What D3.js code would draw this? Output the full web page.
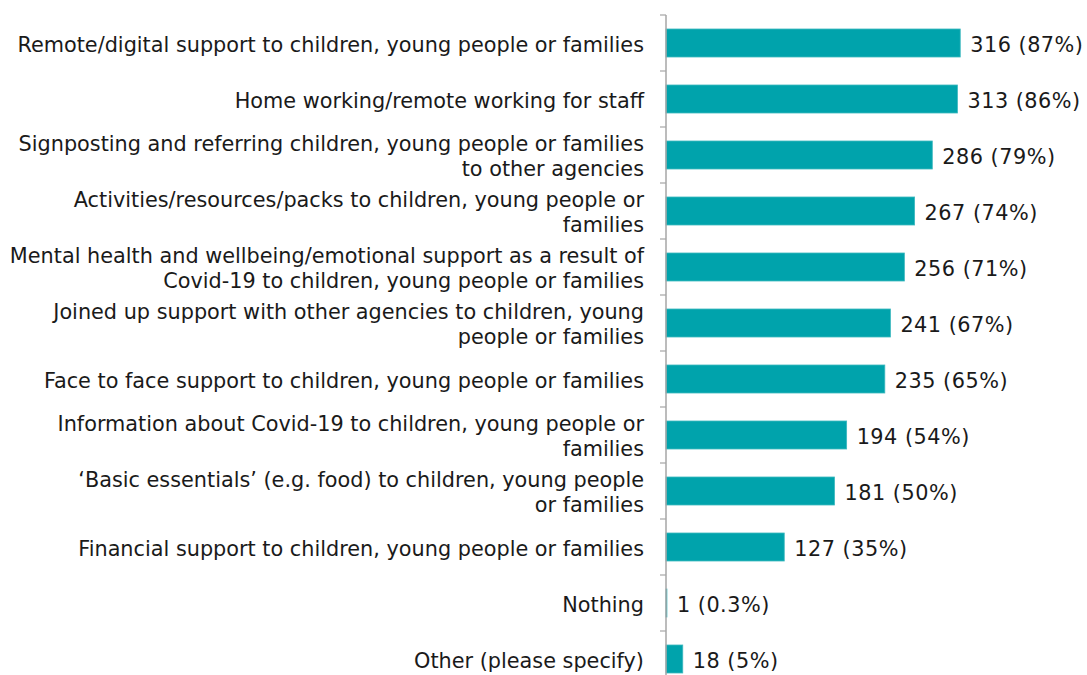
<!DOCTYPE html>
<html>
<head>
<meta charset="utf-8">
<script src="https://cdn.jsdelivr.net/npm/d3@7"></script>
<style>
  html, body { margin: 0; padding: 0; background: #ffffff; }
  svg { display: block; }
  text { font-family: Verdana, "DejaVu Sans", sans-serif; fill: #1a1a1a; }
</style>
</head>
<body>
<svg id="chart" width="1087" height="675"></svg>
<script>
// Category labels, one entry per line of the wrapped label
const categories = [
  ["Remote/digital support to children, young people or families"],
  ["Home working/remote working for staff"],
  ["Signposting and referring children, young people or families", "to other agencies"],
  ["Activities/resources/packs to children, young people or", "families"],
  ["Mental health and wellbeing/emotional support as a result of", "Covid-19 to children, young people or families"],
  ["Joined up support with other agencies to children, young", "people or families"],
  ["Face to face support to children, young people or families"],
  ["Information about Covid-19 to children, young people or", "families"],
  ["\u2018Basic essentials\u2019 (e.g. food) to children, young people", "or families"],
  ["Financial support to children, young people or families"],
  ["Nothing"],
  ["Other (please specify)"]
];
const counts = [316, 313, 286, 267, 256, 241, 235, 194, 181, 127, 1, 18];
const percents = ["87%", "86%", "79%", "74%", "71%", "67%", "65%", "54%", "50%", "35%", "0.3%", "5%"];

const svg = d3.select("#chart");
const fontSize = 20.8;
const lineHeight = 25;
const textShift = 1.5;

const x = d3.scaleLinear().domain([0, 450]).range([666, 1085]);
const y = d3.scaleBand()
  .domain(d3.range(categories.length))
  .range([15, 15 + 56 * categories.length])
  .paddingInner(0.5)
  .paddingOuter(0.25);

// Bars
svg.append("g").selectAll("rect")
  .data(counts)
  .join("rect")
  .attr("x", x(0))
  .attr("y", (d, i) => y(i))
  .attr("width", d => x(d) - x(0))
  .attr("height", y.bandwidth())
  .attr("fill", "#00a3ac")
  .attr("stroke", "#3db8bf")
  .attr("stroke-width", 0.8);

// Category axis: spine and tick marks between bands
const axisG = svg.append("g");
axisG.append("line")
  .attr("x1", x(0)).attr("x2", x(0))
  .attr("y1", 15).attr("y2", 675)
  .attr("stroke", "#a6a6a6").attr("stroke-width", 1.5);
const step = y.step();
axisG.selectAll("line.tick")
  .data(d3.range(categories.length + 1))
  .join("line")
  .attr("class", "tick")
  .attr("x1", x(0) - 6).attr("x2", x(0))
  .attr("y1", i => 15 + i * step).attr("y2", i => 15 + i * step)
  .attr("stroke", "#a6a6a6").attr("stroke-width", 1.2);

// Category labels, right-aligned and vertically centred on each bar
const labels = svg.append("g").selectAll("text")
  .data(categories)
  .join("text")
  .attr("text-anchor", "end")
  .attr("font-size", fontSize)
  .attr("y", (d, i) => y(i) + y.bandwidth() / 2 + textShift);
labels.each(function(lines) {
  const t = d3.select(this);
  const offset0 = -(lines.length - 1) * lineHeight / 2;
  lines.forEach((line, k) => {
    t.append("tspan")
      .attr("x", 644)
      .attr("dy", k === 0 ? offset0 : lineHeight)
      .attr("dominant-baseline", "central")
      .text(line);
  });
});

// Value labels at the end of each bar
svg.append("g").selectAll("text")
  .data(counts)
  .join("text")
  .attr("x", d => x(d) + 10)
  .attr("y", (d, i) => y(i) + y.bandwidth() / 2 + textShift)
  .attr("dominant-baseline", "central")
  .attr("font-size", fontSize)
  .attr("letter-spacing", 0.5)
  .text((d, i) => `${d} (${percents[i]})`);
</script>
</body>
</html>
